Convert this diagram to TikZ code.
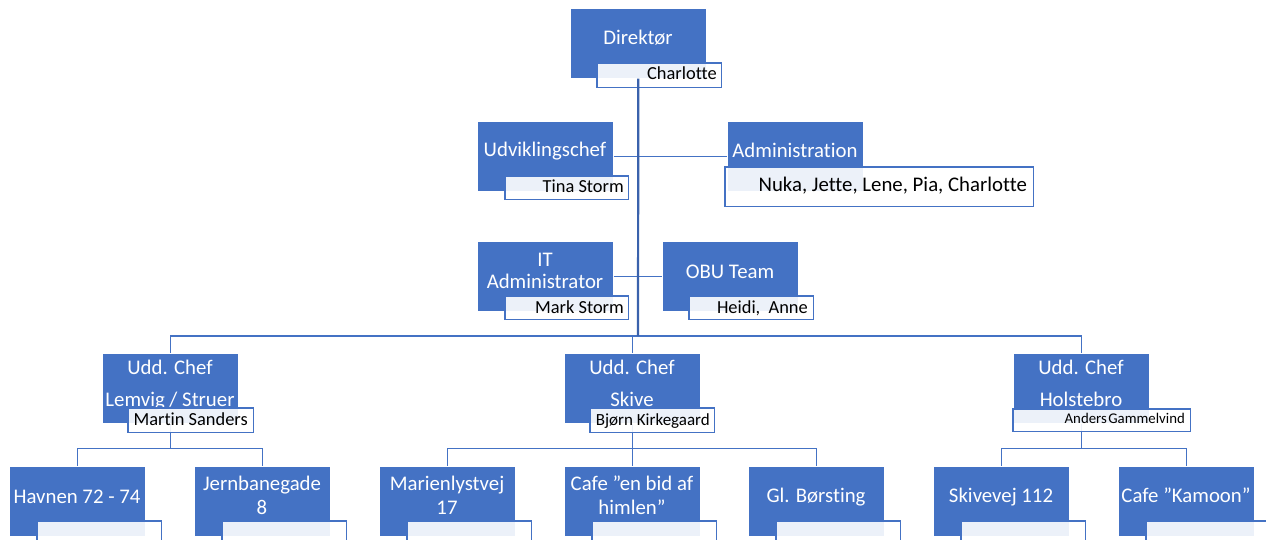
\documentclass[tikz,border=0pt]{standalone}
\usepackage{fontspec}
\setmainfont{Carlito}[Ligatures={NoCommon}]
\definecolor{obl}{HTML}{4472C4}
\definecolor{trk}{HTML}{3A62AC}
\newcommand\bxstrut{\rule{0pt}{17pt}}
\tikzset{
 bluebox/.style={draw=white, line width=0.6pt, fill=obl, minimum width=136pt, minimum height=70pt, inner sep=0pt, anchor=north west},
 subbox/.style={fill=white, fill opacity=0.9, minimum height=24pt, inner sep=0pt, anchor=north west},
 subline/.style={draw=obl, line width=1.1pt},
 btxt/.style={text=white, inner sep=0pt, align=center, font=\fontsize{20.8}{23.3}\selectfont},
 stxt/.style={text=black, inner sep=0pt, anchor=base east, font=\fontsize{18.4}{22}\selectfont},
 conn/.style={draw=obl, line width=1.3pt},
 trunk/.style={draw=trk, line width=2.2pt},
}
\begin{document}
\begin{tikzpicture}[x=1pt,y=-1pt]
\fill[white] (0,0) rectangle (1266,540);
\useasboundingbox (0,0) rectangle (1266,540);

% blue boxes
\path
 (570,8)   node[bluebox] (dir) {}
 (477,121) node[bluebox] (udv) {}
 (727,121) node[bluebox] (adm) {}
 (477,241) node[bluebox] (it)  {}
 (662,241) node[bluebox] (obu) {}
 (102,353) node[bluebox] (lem) {}
 (564,353) node[bluebox] (ski) {}
 (1013,353) node[bluebox] (hol) {}
 (9,466)   node[bluebox] (hav) {}
 (194,466) node[bluebox] (jer) {}
 (379,466) node[bluebox] (mar) {}
 (564,466) node[bluebox] (caf) {}
 (748,466) node[bluebox] (gl)  {}
 (933,466) node[bluebox] (skv) {}
 (1118,466) node[bluebox] (kam) {};

% connectors
\coordinate (bus) at (638,336);
\draw[conn] (udv.east) -- (adm.west);
\draw[conn] (it.east) -- (obu.west);
\draw[conn] (lem.north) |- (bus) -| (hol.north);
\draw[conn] (ski.north) -- (ski.north |- bus);
\draw[conn] (lem.south) -- ++(0,25) -| (hav.north);
\draw[conn] (lem.south) ++(0,25) -| (jer.north);
\draw[conn] (ski.south) -- ++(0,25) -| (mar.north);
\draw[conn] (ski.south) -- (caf.north);
\draw[conn] (ski.south) ++(0,25) -| (gl.north);
\draw[conn] (hol.south) -- ++(0,25) -| (skv.north);
\draw[conn] (hol.south) ++(0,25) -| (kam.north);

% blue box texts
\node[btxt, anchor=base] (t-dir) at (638,45) {Direktør};
\node[btxt, anchor=base] (t-udv) at (545,157) {Udviklingschef};
\node[btxt, anchor=base] (t-adm) at (795,157.5) {Administration};
\node[btxt, anchor=north, font=\fontsize{20.8}{22.3}\selectfont] (t-it) at (545,249) {\bxstrut IT\\Administrator};
\node[btxt, anchor=base] (t-obu) at (730,278) {OBU Team};
\node[btxt, anchor=north, font=\fontsize{20.8}{31.7}\selectfont] (t-lem) at (170,357.3) {\bxstrut Udd. Chef\\Lemvig / Struer};
\node[btxt, anchor=north, font=\fontsize{20.8}{31.7}\selectfont] (t-ski) at (632,357.3) {\bxstrut Udd. Chef\\Skive};
\node[btxt, anchor=north, font=\fontsize{20.8}{31.7}\selectfont] (t-hol) at (1081,357.3) {\bxstrut Udd. Chef\\Holstebro};
\node[btxt, anchor=base] (t-hav) at (77,503.3) {Havnen 72 - 74};
\node[btxt, anchor=north] (t-jer) at (262,473.7) {\bxstrut Jernbanegade\\8};
\node[btxt, anchor=north] (t-mar) at (447,473.7) {\bxstrut Marienlystvej\\17};
\node[btxt, anchor=north] (t-caf) at (632,473.7) {\bxstrut Cafe ”en bid af\\himlen”};
\node[btxt, anchor=base] (t-gl) at (816,502.7) {Gl. Børsting};
\node[btxt, anchor=base] (t-skv) at (1001,502.7) {Skivevej 112};
\node[btxt, anchor=base] (t-kam) at (1186,502.7) {Cafe ”Kamoon”};

% name sub-boxes
\node[subbox, minimum width=124pt] (s-dir) at (597,63) {};
\node[subbox, minimum width=123pt, minimum height=23pt] (s-udv) at (505,176) {};
\node[subbox, minimum width=308pt, minimum height=39pt] (s-adm) at (725,167) {};
\node[subbox, minimum width=123pt, minimum height=23pt] (s-it) at (505,296) {};
\node[subbox, minimum width=124pt, minimum height=23pt] (s-obu) at (689,296) {};
\node[subbox, minimum width=125pt] (s-lem) at (128,408) {};
\node[subbox, minimum width=124pt] (s-ski) at (590,408) {};
\node[subbox, minimum width=177pt, minimum height=22pt] (s-hol) at (1013,409) {};
\node[subbox, minimum width=124pt] (s-hav) at (37,521) {};
\node[subbox, minimum width=124pt] (s-jer) at (222,521) {};
\node[subbox, minimum width=124pt] (s-mar) at (407,521) {};
\node[subbox, minimum width=124pt] (s-caf) at (592,521) {};
\node[subbox, minimum width=124pt] (s-gl) at (776,521) {};
\node[subbox, minimum width=124pt] (s-skv) at (961,521) {};
\node[subbox, minimum width=124pt] (s-kam) at (1146,521) {};
\foreach \n in {s-dir,s-udv,s-adm,s-it,s-obu,s-lem,s-ski,s-hol,s-hav,s-jer,s-mar,s-caf,s-gl,s-skv,s-kam}
  \draw[subline] (\n.north west) rectangle (\n.south east);

% names
\node[stxt] (n-dir) at (717,80) {Charlotte};
\node[stxt] (n-udv) at (624,193) {Tina Storm};
\node[stxt, font=\fontsize{20.8}{24}\selectfont] (n-adm) at (1027,192) {Nuka, Jette, Lene, Pia, Charlotte};
\node[stxt] (n-it) at (624,313) {Mark Storm};
\node[stxt] (n-obu) at (808,313) {Heidi,\ \ Anne};
\node[stxt] (n-lem) at (248,425) {Martin Sanders};
\node[stxt, font=\fontsize{17}{20}\selectfont] (n-ski) at (710,425) {Bjørn Kirkegaard};
\node[stxt, font=\fontsize{14.8}{18}\selectfont] (n-hol) at (1185,423) {{\spaceskip=1.5pt Anders Gammelvind}};

% trunk
\draw[trunk] (dir.south) -- (bus);
\end{tikzpicture}
\end{document}
